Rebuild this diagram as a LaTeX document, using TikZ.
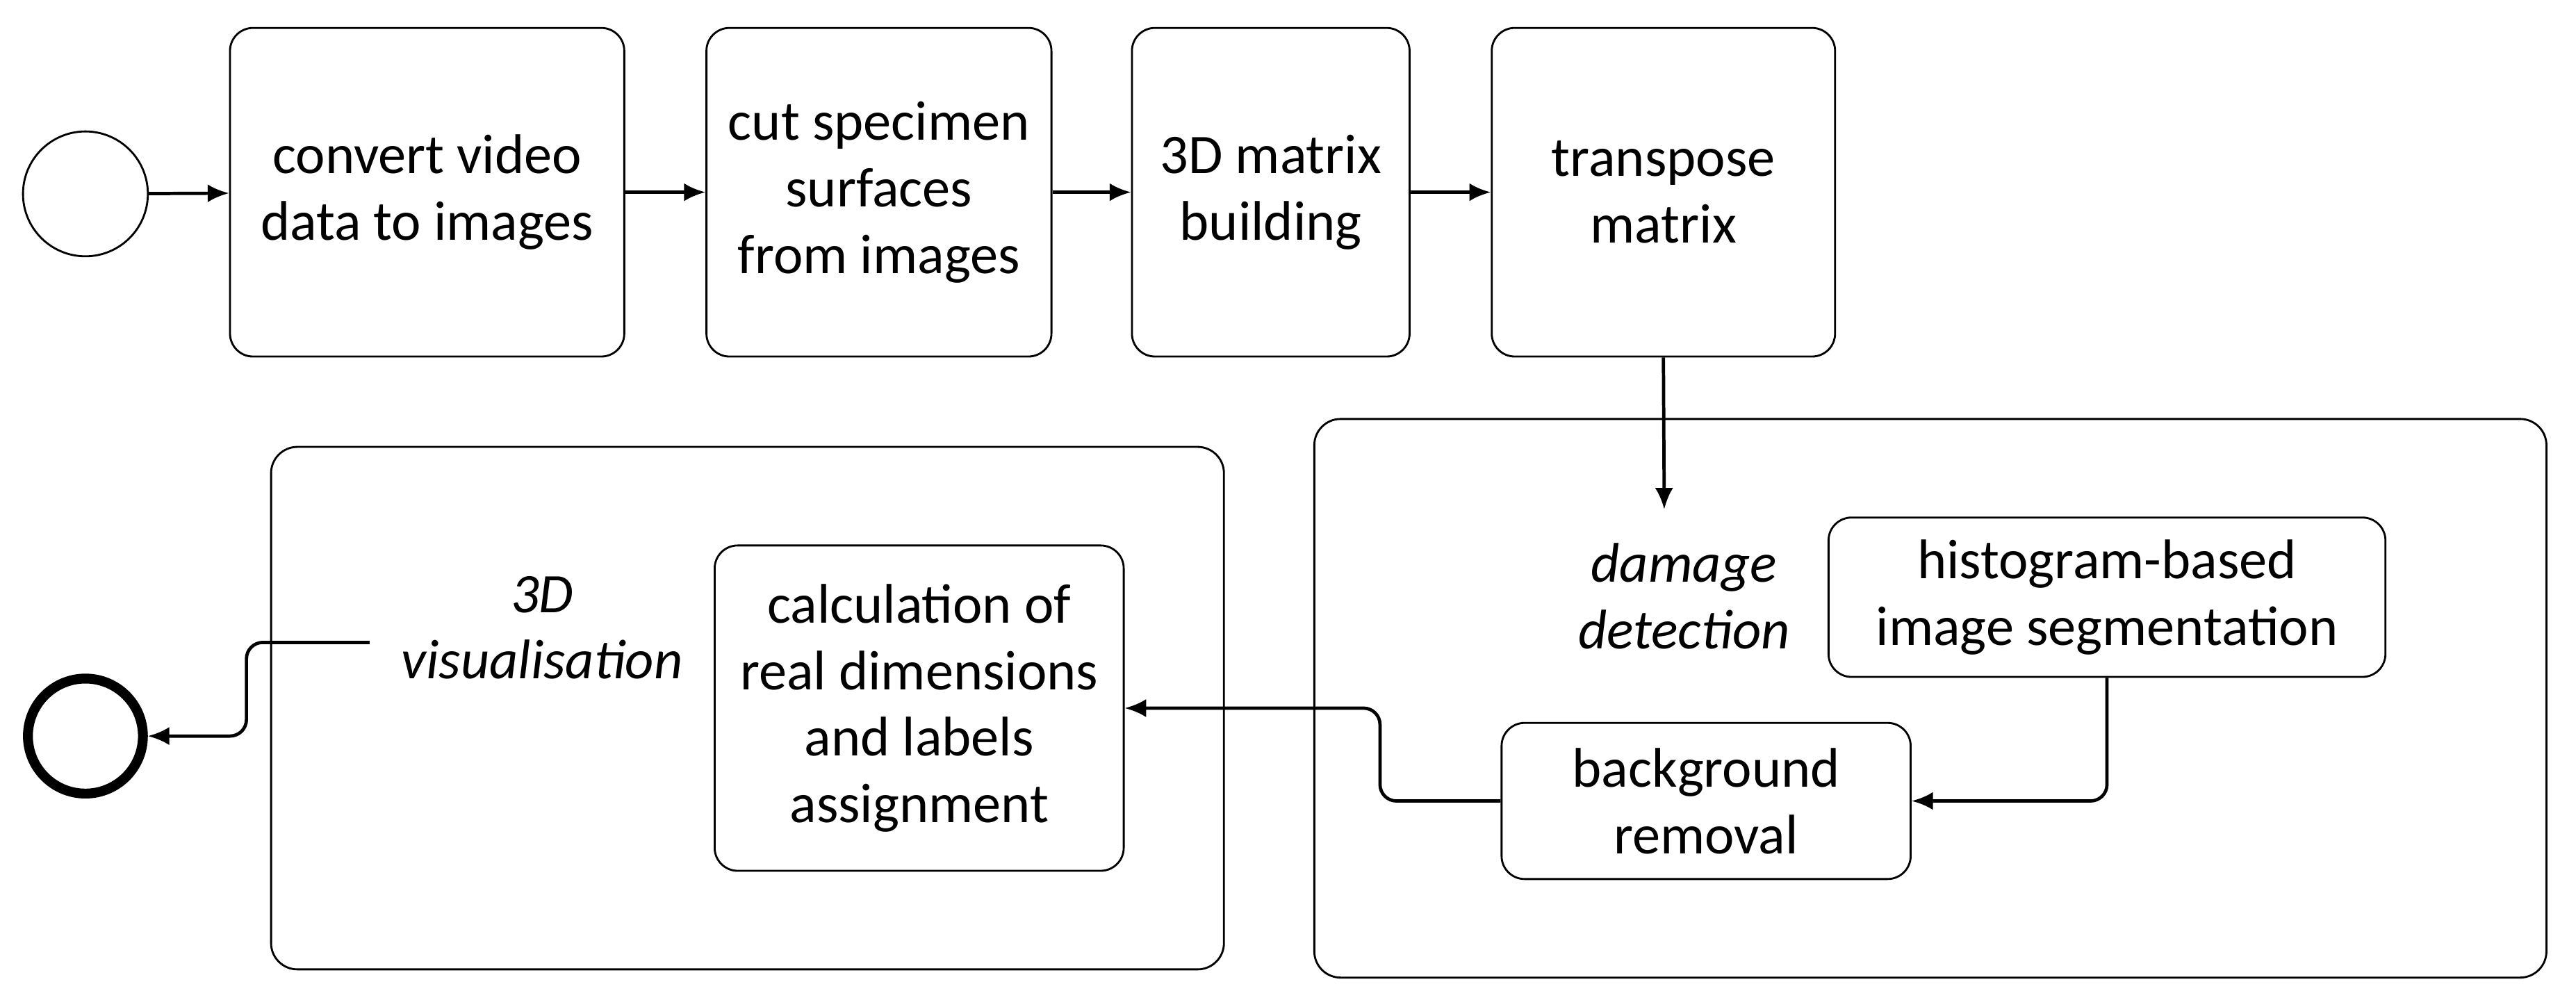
\documentclass[tikz,border=0pt]{standalone}
\usepackage{fontspec}
\setmainfont{Carlito}
\usetikzlibrary{arrows.meta}
\begin{document}
\begin{tikzpicture}[x=1pt,y=-1pt,
  box/.style={draw,line width=1.2pt,rounded corners=14pt,align=center,font=\fontsize{34}{40.5}\selectfont},
  big/.style={draw,line width=1.2pt,rounded corners=16pt},
  arr/.style={line width=2pt,-{Latex[length=13pt,width=11pt]},rounded corners=10pt},
  lbl/.style={align=center,font=\fontsize{34}{40.5}\selectfont\itshape}]
\useasboundingbox (0,0) rectangle (1568,612.5);
\node[draw,circle,line width=1.2pt,minimum size=76pt,inner sep=0] (s) at (52,118) {};
\node[box,minimum width=240pt,minimum height=200pt] (b1) at (260,117) {convert video\\data to images};
\node[box,minimum width=210pt,minimum height=200pt] (b2) at (535,117) {cut specimen\\surfaces\\from images};
\node[box,minimum width=169pt,minimum height=200pt] (b3) at (773.5,117) {3D matrix\\building};
\node[box,minimum width=209pt,minimum height=200pt] (b4) at (1012.5,117) {transpose\\matrix};
\node[big,minimum width=750pt,minimum height=340pt] (dd) at (1175,425) {};
\node[big,minimum width=580pt,minimum height=318pt] (vis) at (455,431) {};
\node[lbl] (ddl) at (1025,363) {damage\\detection};
\node[lbl] (visl) at (330,382) {3D\\visualisation};
\node[box,minimum width=339pt,minimum height=97pt] (hist) at (1282.5,363.5) {histogram-based\\image segmentation};
\node[box,minimum width=249pt,minimum height=95pt] (bg) at (1038.5,487.5) {background\\removal};
\node[box,minimum width=249pt,minimum height=198pt] (calc) at (559.5,431) {calculation of\\real dimensions\\and labels\\assignment};
\node[draw,circle,line width=6pt,minimum size=70pt,inner sep=0] (e) at (52,448) {};
\coordinate (dtop) at (1013,310);
\coordinate (vstart) at (225,391);
\draw[arr] (s) -- (b1);
\draw[arr] (b1) -- (b2);
\draw[arr] (b2) -- (b3);
\draw[arr] (b3) -- (b4);
\draw[arr] (b4.south) -- (dtop);
\draw[arr] (hist.south) |- (bg.east);
\draw[arr] (bg.west) -- (840,487.5) |- (calc.east);
\draw[arr] (vstart) -- (150,391) |- (e.east);
\end{tikzpicture}
\end{document}
